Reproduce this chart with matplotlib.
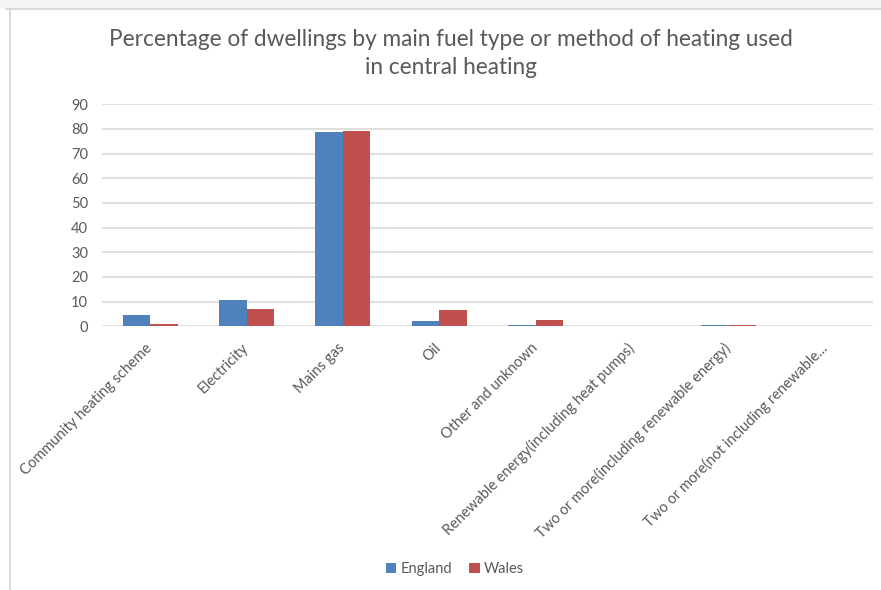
import numpy as np
import matplotlib.pyplot as plt
from matplotlib.lines import Line2D
from matplotlib.patches import Rectangle

plt.rcParams['font.family'] = ['Lato', 'DejaVu Sans']

# fuel types and percentages of dwellings
categorie = ['Community heating scheme', 'Electricity', 'Mains gas', 'Oil',
             'Other and unknown', 'Renewable energy(including heat pumps)',
             'Two or more(including renewable energy)',
             'Two or more(not including renewable...']
england = [4.5, 10.5, 78.8, 2.2, 0.7, 0.0, 0.6, 0.0]
wales = [0.8, 6.9, 79.2, 6.5, 2.7, 0.0, 0.6, 0.0]
yticks = np.arange(0, 100, 10)

col_eng = '#4F81BD'
col_wal = '#C0504D'
grigio = '#595959'

fig = plt.figure(figsize=(8.81, 5.90), dpi=100)
fig.patch.set_facecolor('white')

# cornice esterna del grafico
fig.patches.append(Rectangle((0, 1 - 9/590), 1, 9/590, transform=fig.transFigure,
                             facecolor='#f4f5f7', edgecolor='none', zorder=0))
fig.lines.append(Line2D([6/881, 1], [1 - 9/590, 1 - 9/590], transform=fig.transFigure,
                        color='#d4d4d4', lw=1.2))
fig.lines.append(Line2D([10/881, 10/881], [0, 1 - 9/590], transform=fig.transFigure,
                        color='#d4d4d4', lw=1.2))

ax = fig.add_axes([102/881, 1 - 326.3/590, 771/881, 222/590])
x = np.arange(len(categorie))
w = 0.285
ax.bar(x - w/2, england, w, color=col_eng, label='England', zorder=3)
ax.bar(x + w/2, wales, w, color=col_wal, label='Wales', zorder=3)

ax.set_xlim(-0.5, len(categorie) - 0.5)
ax.set_ylim(0, 90)
ax.set_yticks(yticks)
ax.yaxis.grid(True, color='#d9d9d9', lw=1.2, zorder=0)
ax.set_axisbelow(True)
for s in ax.spines.values():
    s.set_visible(False)
ax.tick_params(axis='both', length=0, colors=grigio, labelsize=10.5)
ax.tick_params(axis='y', pad=10)
ax.set_xticks(x)
ax.set_xticklabels(categorie, rotation=45, ha='right', va='center',
                   rotation_mode='anchor')
ax.tick_params(axis='x', pad=14)

fig.text(451/881, 1 - 40/590, 'Percentage of dwellings by main fuel type or method of heating used',
         ha='center', va='center', fontsize=16.3, color=grigio)
fig.text(451/881, 1 - 68/590, 'in central heating', ha='center', va='center',
         fontsize=16.3, color=grigio)

fig.legend(loc='center', bbox_to_anchor=(455/881, 1 - 569/590), ncol=2, frameon=False,
           fontsize=10.5, labelcolor=grigio, handlelength=0.7, handleheight=0.7,
           handletextpad=0.3, columnspacing=1.2)

plt.savefig('out.png', dpi=100)
